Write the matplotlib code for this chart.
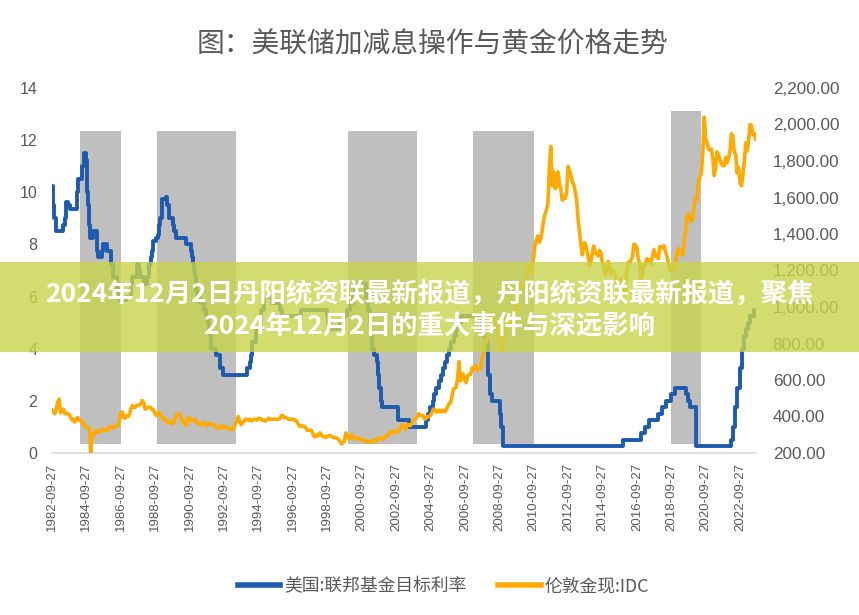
import matplotlib
matplotlib.use('Agg')
import matplotlib.pyplot as plt
import matplotlib.patches as mpatches
from matplotlib.ticker import FuncFormatter
import pandas as pd

plt.rcParams['font.family'] = ['Noto Sans CJK SC', 'DejaVu Sans']

# Fed funds target rate (upper bound after 2008), step changes
rate_dates = [
    '1982-09-27', '1982-10-08', '1982-11-19', '1982-12-14', '1983-05-24', '1983-06-24',
    '1983-07-14', '1983-08-25', '1983-10-18', '1984-03-16', '1984-04-09', '1984-06-15',
    '1984-07-27', '1984-09-20', '1984-10-02', '1984-10-18', '1984-11-08', '1984-11-23',
    '1984-12-07', '1984-12-20', '1985-02-14', '1985-05-20', '1985-06-03', '1985-08-21',
    '1985-09-24', '1985-12-18', '1986-03-07', '1986-04-21', '1986-07-11', '1986-08-21',
    '1987-01-05', '1987-04-30', '1987-05-22', '1987-09-04', '1987-10-22', '1987-11-04',
    '1988-01-28', '1988-03-30', '1988-05-09', '1988-05-25', '1988-06-22', '1988-07-19',
    '1988-08-08', '1988-10-20', '1988-11-17', '1988-12-15', '1989-01-05', '1989-02-09',
    '1989-02-24', '1989-05-17', '1989-06-06', '1989-07-07', '1989-07-27', '1989-10-18',
    '1989-11-06', '1989-12-20', '1990-07-13', '1990-10-29', '1990-11-14', '1990-12-07',
    '1990-12-19', '1991-01-09', '1991-02-01', '1991-03-08', '1991-04-30', '1991-08-06',
    '1991-09-13', '1991-10-31', '1991-11-06', '1991-12-06', '1991-12-20', '1992-04-09',
    '1992-07-02', '1992-09-04', '1994-02-04', '1994-03-22', '1994-04-18', '1994-05-17',
    '1994-08-16', '1994-11-15', '1995-02-01', '1995-07-06', '1995-12-19', '1996-01-31',
    '1997-03-25', '1998-09-29', '1998-10-15', '1998-11-17', '1999-06-30', '1999-08-24',
    '1999-11-16', '2000-02-02', '2000-03-21', '2000-05-16', '2001-01-03', '2001-01-31',
    '2001-03-20', '2001-04-18', '2001-05-15', '2001-06-27', '2001-08-21', '2001-09-17',
    '2001-10-02', '2001-11-06', '2001-12-11', '2002-11-06', '2003-06-25', '2004-06-30',
    '2004-08-10', '2004-09-21', '2004-11-10', '2004-12-14', '2005-02-02', '2005-03-22',
    '2005-05-03', '2005-06-30', '2005-08-09', '2005-09-20', '2005-11-01', '2005-12-13',
    '2006-01-31', '2006-03-28', '2006-05-10', '2006-06-29', '2007-09-18', '2007-10-31',
    '2007-12-11', '2008-01-22', '2008-01-30', '2008-03-18', '2008-04-30', '2008-10-08',
    '2008-10-29', '2008-12-16', '2015-12-16', '2016-12-14', '2017-03-15', '2017-06-14',
    '2017-12-13', '2018-03-21', '2018-06-13', '2018-09-26', '2018-12-19', '2019-07-31',
    '2019-09-18', '2019-10-30', '2020-03-03', '2020-03-15', '2022-03-16', '2022-05-04',
    '2022-06-15', '2022-07-27', '2022-09-21', '2022-11-02', '2022-12-14', '2023-02-01',
    '2023-03-22', '2023-05-03', '2023-07-26', '2023-08-31',
]
rate_values = [
    10.25, 9.5, 9.0, 8.5, 8.75, 9.0,
    9.625, 9.5, 9.375, 10.0, 10.5, 11.0,
    11.5, 11.25, 10.5, 10.0, 9.5, 8.75,
    8.5, 8.25, 8.5, 7.75, 7.5, 7.75,
    8.0, 7.75, 7.25, 6.75, 6.25, 5.875,
    6.0, 6.5, 6.75, 7.25, 7.0, 6.75,
    6.5, 6.75, 7.0, 7.25, 7.5, 7.75,
    8.125, 8.25, 8.375, 8.75, 9.0, 9.25,
    9.75, 9.8125, 9.5, 9.25, 9.0, 8.75,
    8.5, 8.25, 8.0, 7.75, 7.5, 7.25,
    7.0, 6.75, 6.25, 6.0, 5.75, 5.5,
    5.25, 5.0, 4.75, 4.5, 4.0, 3.75,
    3.25, 3.0, 3.25, 3.5, 3.75, 4.25,
    4.75, 5.5, 6.0, 5.75, 5.5, 5.25,
    5.5, 5.25, 5.0, 4.75, 5.0, 5.25,
    5.5, 5.75, 6.0, 6.5, 6.0, 5.5,
    5.0, 4.5, 4.0, 3.75, 3.5, 3.0,
    2.5, 2.0, 1.75, 1.25, 1.0, 1.25,
    1.5, 1.75, 2.0, 2.25, 2.5, 2.75,
    3.0, 3.25, 3.5, 3.75, 4.0, 4.25,
    4.5, 4.75, 5.0, 5.25, 4.75, 4.5,
    4.25, 3.5, 3.0, 2.25, 2.0, 1.5,
    1.0, 0.25, 0.5, 0.75, 1.0, 1.25,
    1.5, 1.75, 2.0, 2.25, 2.5, 2.25,
    2.0, 1.75, 1.25, 0.25, 0.5, 1.0,
    1.75, 2.5, 3.25, 4.0, 4.5, 4.75,
    5.0, 5.25, 5.5, 5.5,
]

# London gold spot, monthly, 1982-09 .. 2023-08
gold_start = '1982-09-27'
gold_values = [
    435, 425, 415, 445,
    480, 495, 420, 430, 440, 415, 420, 415, 410, 395, 380, 385,
    370, 385, 395, 380, 375, 375, 350, 350, 340, 340, 335, 200,
    305, 300, 310, 325, 315, 318, 318, 330, 325, 325, 325, 325,
    345, 340, 345, 340, 340, 345, 350, 375, 420, 425, 395, 390,
    405, 400, 410, 440, 460, 450, 450, 460, 460, 465, 470, 488,
    475, 440, 445, 450, 450, 450, 435, 435, 410, 405, 420, 420,
    405, 390, 390, 385, 370, 365, 375, 365, 360, 365, 390, 410,
    410, 415, 395, 375, 370, 350, 360, 395, 390, 380, 380, 375,
    385, 365, 360, 355, 355, 365, 365, 355, 350, 360, 360, 360,
    355, 355, 345, 340, 335, 340, 350, 340, 345, 345, 335, 335,
    330, 330, 330, 340, 365, 370, 400, 375, 355, 365, 375, 385,
    385, 380, 385, 375, 380, 385, 385, 380, 390, 390, 385, 380,
    380, 375, 380, 390, 385, 385, 385, 385, 385, 385, 385, 390,
    405, 405, 395, 395, 390, 385, 385, 385, 385, 380, 380, 370,
    355, 345, 350, 345, 345, 340, 325, 325, 325, 325, 305, 290,
    290, 300, 295, 310, 300, 290, 290, 285, 290, 295, 295, 290,
    285, 285, 285, 280, 275, 260, 250, 255, 265, 310, 295, 280,
    285, 300, 285, 280, 275, 285, 280, 275, 275, 270, 265, 270,
    262, 260, 265, 260, 270, 270, 265, 275, 285, 280, 275, 275,
    280, 295, 295, 300, 315, 320, 315, 310, 320, 315, 320, 335,
    355, 355, 340, 330, 355, 355, 350, 360, 380, 380, 390, 405,
    415, 405, 405, 405, 385, 390, 400, 400, 405, 420, 440, 440,
    425, 425, 435, 430, 425, 435, 425, 435, 455, 470, 475, 510,
    550, 555, 560, 610, 700, 595, 635, 630, 600, 585, 625, 630,
    630, 665, 655, 680, 665, 655, 665, 665, 710, 755, 805, 805,
    890, 920, 970, 910, 890, 890, 940, 840, 830, 805, 760, 815,
    860, 945, 925, 890, 930, 945, 935, 950, 995, 1040, 1130, 1130,
    1115, 1095, 1115, 1150, 1205, 1230, 1190, 1215, 1270, 1340, 1370, 1390,
    1355, 1375, 1420, 1475, 1510, 1530, 1570, 1760, 1880, 1665, 1740, 1650,
    1655, 1740, 1675, 1650, 1585, 1595, 1595, 1625, 1770, 1745, 1720, 1685,
    1670, 1630, 1590, 1485, 1415, 1340, 1285, 1350, 1350, 1315, 1275, 1225,
    1245, 1300, 1335, 1300, 1290, 1280, 1310, 1295, 1240, 1225, 1175, 1200,
    1250, 1225, 1180, 1200, 1200, 1180, 1130, 1115, 1125, 1160, 1085, 1060,
    1095, 1200, 1245, 1240, 1260, 1275, 1345, 1340, 1325, 1265, 1235, 1150,
    1190, 1235, 1230, 1265, 1245, 1260, 1235, 1285, 1315, 1280, 1280, 1265,
    1330, 1330, 1325, 1335, 1305, 1280, 1240, 1200, 1200, 1215, 1220, 1250,
    1290, 1320, 1300, 1285, 1285, 1360, 1410, 1500, 1510, 1495, 1470, 1480,
    1560, 1600, 1590, 1680, 1715, 1730, 1840, 2040, 1920, 1900, 1865, 1860,
    1865, 1810, 1720, 1760, 1850, 1835, 1805, 1785, 1775, 1775, 1820, 1790,
    1815, 1855, 1950, 1935, 1850, 1835, 1735, 1765, 1680, 1665, 1725, 1800,
    1900, 1855, 1910, 2000, 1995, 1945, 1950, 1920,
]

# shaded periods
band_starts = ['1984-05-15', '1988-11-01', '1999-12-15', '2007-03-20', '2018-09-25']
band_ends = ['1986-10-01', '1993-06-10', '2003-12-15', '2010-10-05', '2020-06-20']
band_tops = [12.35, 12.35, 12.35, 12.35, 13.13]
band_bottom = 0.35

tick_labels = ['1982-09-27', '1984-09-27', '1986-09-27', '1988-09-27', '1990-09-27',
               '1992-09-27', '1994-09-27', '1996-09-27', '1998-09-27', '2000-09-27',
               '2002-09-27', '2004-09-27', '2006-09-27', '2008-09-27', '2010-09-27',
               '2012-09-27', '2014-09-27', '2016-09-27', '2018-09-27', '2020-09-27',
               '2022-09-27']

title = '图：美联储加减息操作与黄金价格走势'
rate_label = '美国:联邦基金目标利率'
gold_label = '伦敦金现:IDC'
banner_lines = ['2024年12月2日丹阳统资联最新报道，丹阳统资联最新报道，聚焦',
                '2024年12月2日的重大事件与深远影响']

text_gray = '#595959'
num_font = 'Liberation Sans'

fig = plt.figure(figsize=(8.59, 6.15), dpi=100)
ax = fig.add_axes([52 / 859, 162 / 615, 704 / 859, 365 / 615])
ax2 = ax.twinx()

# gray bands
for s, e, top in zip(band_starts, band_ends, band_tops):
    ax.fill_between(pd.to_datetime([s, e]), band_bottom, top,
                    color='#bfbfbf', lw=0, zorder=1)

# fed funds rate
ax.plot(pd.to_datetime(rate_dates), rate_values, drawstyle='steps-post',
        color='#1E5AAF', lw=2.8, zorder=3, label=rate_label)

# gold
gold_dates = pd.date_range(gold_start, periods=len(gold_values),
                           freq=pd.DateOffset(months=1))
ax2.plot(gold_dates, gold_values, color='#FFAA00', lw=2.6, zorder=3, label=gold_label)

ax.set_xlim(pd.Timestamp('1982-09-27'), pd.Timestamp('2023-09-01'))
ax.set_ylim(0, 14)
ax2.set_ylim(200, 2200)
ax.set_yticks(range(0, 15, 2))
ax2.set_yticks(range(200, 2201, 200))
ax2.yaxis.set_major_formatter(FuncFormatter(lambda v, p: f'{v:,.2f}'))

ax.set_xticks(pd.to_datetime(tick_labels))
ax.set_xticklabels(tick_labels, rotation=90, fontsize=9.5, color=text_gray,
                   family=num_font)

for a in (ax, ax2):
    for sp in a.spines.values():
        sp.set_visible(False)
ax.spines['bottom'].set_visible(True)
ax.spines['bottom'].set_color('#d9d9d9')
ax.spines['bottom'].set_linewidth(1.2)

ax.tick_params(axis='x', length=0, pad=7)
ax.tick_params(axis='y', length=0, pad=10.5, labelsize=11.5, labelcolor=text_gray)
ax2.tick_params(axis='y', length=0, pad=12, labelsize=12.3, labelcolor=text_gray)
for lab in ax.get_yticklabels() + ax2.get_yticklabels():
    lab.set_family(num_font)

fig.text(0.503, (615 - 45) / 615, title, ha='center', va='center',
         fontsize=20, color=text_gray, fontweight='light')

h1, l1 = ax.get_legend_handles_labels()
h2, l2 = ax2.get_legend_handles_labels()
leg = fig.legend(h1 + h2, l1 + l2, loc='center', bbox_to_anchor=(0.516, 29 / 615),
                 ncol=2, frameon=False, fontsize=12.8, handlelength=2.4,
                 columnspacing=1.8, handletextpad=0.2)
for t in leg.get_texts():
    t.set_color(text_gray)
for ln in leg.get_lines():
    ln.set_linewidth(4)

# translucent banner across the chart
fig.add_artist(mpatches.Rectangle((0, 263 / 615), 1, 90 / 615, transform=fig.transFigure,
                                  facecolor='#c8d44a', alpha=0.8, lw=0, zorder=10))
fig.text(0.5, (615 - 295) / 615, banner_lines[0], ha='center', va='center',
         fontsize=19, fontweight='bold', color='white', zorder=11)
fig.text(0.5, (615 - 327) / 615, banner_lines[1], ha='center', va='center',
         fontsize=19, fontweight='bold', color='white', zorder=11)

fig.savefig('out.png', dpi=100)
